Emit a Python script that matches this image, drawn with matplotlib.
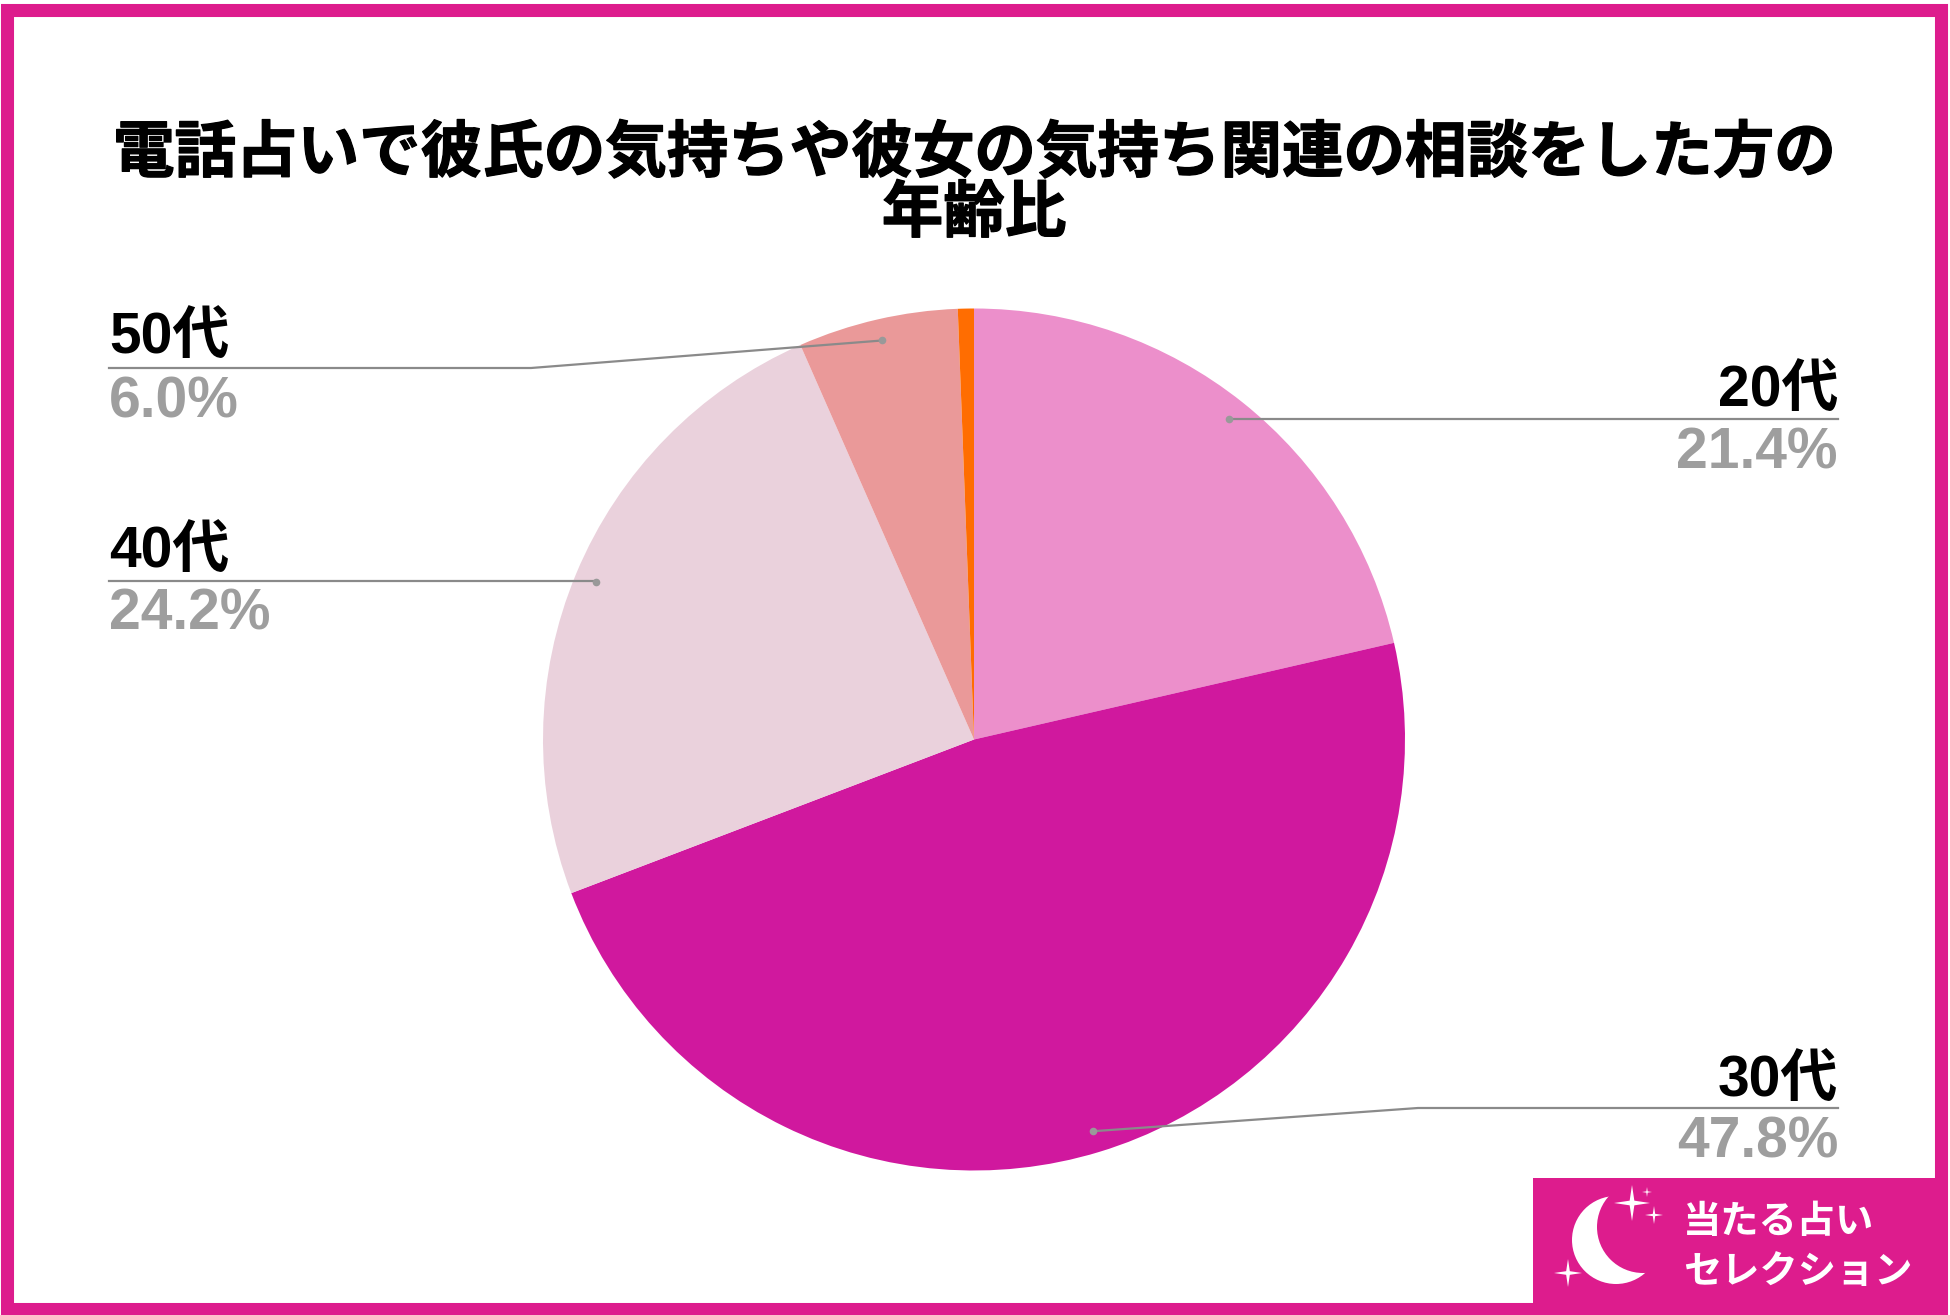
"""
plot.py

Pie chart of the age ratio, with leader lines and the logo box in the corner.
"""

import numpy as np
import matplotlib
matplotlib.use("Agg")
import matplotlib.pyplot as plt
import matplotlib.patheffects as pe
from matplotlib.patches import Circle, Rectangle, Polygon

WIDTH = 1950
HEIGHT = 1315

TITLE_LINES = ["電話占いで彼氏の気持ちや彼女の気持ち関連の相談をした方の", "年齢比"]
LOGO_LINES = ["当たる占い", "セレクション"]

# clockwise from 12 o'clock; the last slice has no label in the picture
AGE_LABELS = ["20代", "30代", "40代", "50代", ""]
AGE_VALUES = [21.4, 47.8, 24.2, 6.0, 0.6]
SLICE_COLORS = ["#EC8FCB", "#D0189E", "#EAD1DC", "#EA9999", "#FF6D01"]

PINK = "#DD1C8D"
GREY_TEXT = "#9E9E9E"
GREY_LINE = "#8A8A8A"

CENTER_X = 974
CENTER_Y = 739.5
RADIUS = 431

# label layout: x of the text edge, line y, elbow x, name baseline, value baseline
LABEL_SIDE = ["right", "right", "left", "left"]
LABEL_EDGE = [1838, 1838, 109, 109]
LINE_Y = [419, 1108, 581, 368]
ELBOW_X = [1229, 1418, 595, 531]
NAME_BASE = [407, 1097, 568, 354]
VALUE_BASE = [468, 1158, 629, 417]

LABEL_FONT = ["Liberation Sans", "Noto Sans CJK JP"]


def sparkle(ax, x, y, size):
    # four pointed star
    waist = size * 0.13
    pts = [
        (x, y - size), (x + waist, y - waist), (x + size, y), (x + waist, y + waist),
        (x, y + size), (x - waist, y + waist), (x - size, y), (x - waist, y - waist),
    ]
    ax.add_patch(Polygon(pts, closed=True, facecolor="white", edgecolor="none", zorder=6))


def main():
    fig = plt.figure(figsize=(WIDTH / 100, HEIGHT / 100), dpi=100, facecolor="white")

    # --------------------------------------------------
    # Pie, placed on the figure in pixels
    # --------------------------------------------------
    ax_pie = fig.add_axes([
        (CENTER_X - RADIUS) / WIDTH,
        1 - (CENTER_Y + RADIUS) / HEIGHT,
        2 * RADIUS / WIDTH,
        2 * RADIUS / HEIGHT,
    ])
    ax_pie.pie(
        AGE_VALUES,
        colors=SLICE_COLORS,
        startangle=90,
        counterclock=False,
        radius=1,
        wedgeprops={"linewidth": 0},
    )
    ax_pie.set_xlim(-1, 1)
    ax_pie.set_ylim(-1, 1)
    ax_pie.axis("off")

    # --------------------------------------------------
    # Overlay in pixel coordinates for border and text
    # --------------------------------------------------
    ax = fig.add_axes([0, 0, 1, 1], facecolor="none")
    ax.set_xlim(0, WIDTH)
    ax.set_ylim(HEIGHT, 0)
    ax.axis("off")

    ax.add_patch(Rectangle((6.5, 9.5), 1934, 1299, facecolor="none", edgecolor=PINK, linewidth=9.4, zorder=1))
    ax.add_patch(Rectangle((1533, 1178), 414, 137, facecolor=PINK, edgecolor="none", zorder=2))

    heavy = [pe.withStroke(linewidth=0.9, foreground="black")]
    for line, y in zip(TITLE_LINES, [154, 214]):
        ax.text(CENTER_X, y, line, ha="center", va="center", fontsize=44.3,
                fontweight="bold", family="Noto Sans CJK JP", color="black", path_effects=heavy)

    # --------------------------------------------------
    # Labels and leader lines
    # --------------------------------------------------
    cum = np.cumsum(AGE_VALUES)
    total = cum[-1]
    for i in range(4):
        mid = (cum[i] - AGE_VALUES[i] / 2) / total * 2 * np.pi
        px = CENTER_X + 0.95 * RADIUS * np.sin(mid)
        py = CENTER_Y - 0.95 * RADIUS * np.cos(mid)

        ax.plot([LABEL_EDGE[i], ELBOW_X[i], px], [LINE_Y[i], LINE_Y[i], py],
                color=GREY_LINE, linewidth=1.6, zorder=4)
        ax.plot([px], [py], "o", color="#999999", markersize=5.5, markeredgewidth=0, zorder=5)

        ax.text(LABEL_EDGE[i], NAME_BASE[i], AGE_LABELS[i], ha=LABEL_SIDE[i], va="baseline",
                fontsize=41, fontweight="bold", family=LABEL_FONT, color="black")
        ax.text(LABEL_EDGE[i], VALUE_BASE[i], f"{AGE_VALUES[i]:.1f}%", ha=LABEL_SIDE[i], va="baseline",
                fontsize=41, fontweight="bold", family=LABEL_FONT, color=GREY_TEXT)

    # --------------------------------------------------
    # Logo: crescent, stars and two text lines
    # --------------------------------------------------
    ax.add_patch(Circle((1616, 1240), 44, facecolor="white", edgecolor="none", zorder=3))
    ax.add_patch(Circle((1643, 1227), 46, facecolor=PINK, edgecolor="none", zorder=4))
    sparkle(ax, 1632, 1203, 18)
    sparkle(ax, 1647, 1192, 5)
    sparkle(ax, 1654, 1215, 9)
    sparkle(ax, 1568, 1273, 14)

    for line, y in zip(LOGO_LINES, [1221, 1271]):
        ax.text(1683, y, line, ha="left", va="center", fontsize=27.5, fontweight="bold",
                family="Noto Sans CJK JP", color="white", zorder=6)

    fig.savefig("out.png", dpi=100)
    plt.close(fig)


if __name__ == "__main__":
    main()
